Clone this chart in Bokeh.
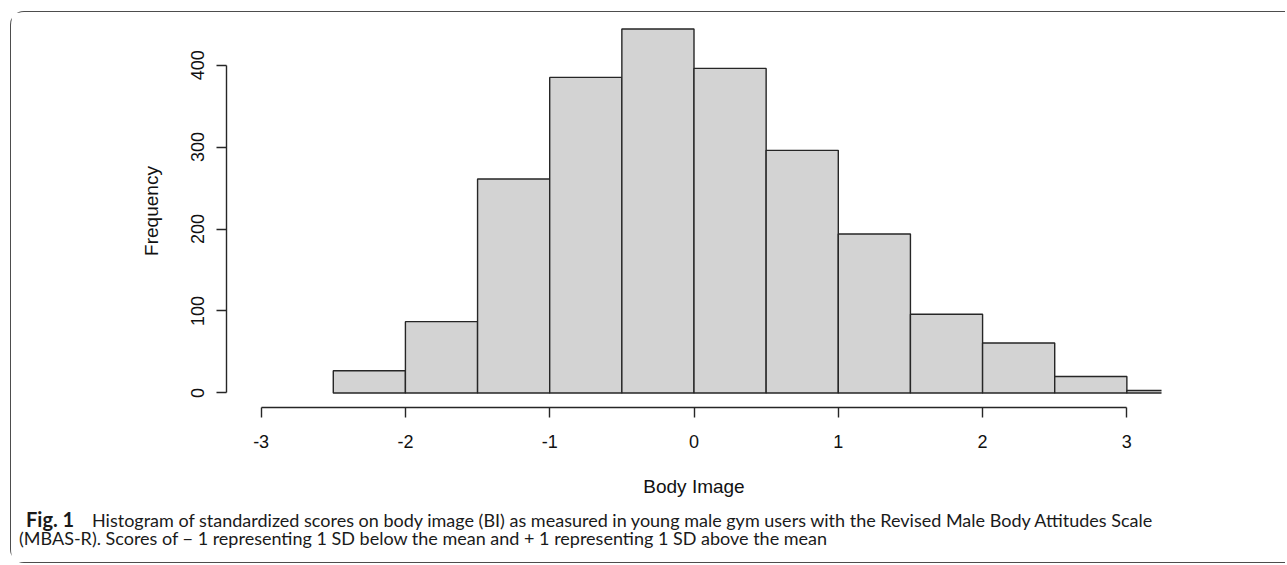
from bokeh.plotting import figure
from bokeh.models import Label, Range1d, FixedTicker
from bokeh.layouts import column
from bokeh.embed import file_html
from bokeh.resources import INLINE

# Histogram data (bin edges and frequencies)
bin_left = [-2.5, -2.0, -1.5, -1.0, -0.5, 0.0, 0.5, 1.0, 1.5, 2.0, 2.5, 3.0]
bin_right = [-2.0, -1.5, -1.0, -0.5, 0.0, 0.5, 1.0, 1.5, 2.0, 2.5, 3.0, 3.5]
frequency = [27, 87, 261, 385, 444, 396, 296, 194, 96, 61, 20, 3]
x_ticks = [-3, -2, -1, 0, 1, 2, 3]
x_tick_labels = ["-3", "-2", "-1", "0", "1", "2", "3"]
y_ticks = [0, 100, 200, 300, 400]
y_tick_labels = ["0", "100", "200", "300", "400"]

x_label = "Body Image"
y_label = "Frequency"
caption_bold = "Fig. 1"
caption_line1 = "Histogram of standardized scores on body image (BI) as measured in young male gym users with the Revised Male Body Attitudes Scale"
caption_line2 = "(MBAS-R). Scores of \u2212 1 representing 1 SD below the mean and + 1 representing 1 SD above the mean"

FONT = "Liberation Sans"
CAP_FONT = "Lato"
W = 1274

p = figure(
    width=W, height=494,
    frame_width=935, frame_height=393,
    min_border_left=215, min_border_right=124, min_border_top=2, min_border_bottom=99,
    x_range=Range1d(-3.24, 3.24), y_range=Range1d(-17.76, 461.76),
    output_backend="svg", toolbar_location=None,
)
p.frame_align = False
p.title.visible = False
p.outline_line_color = None
p.grid.visible = False
p.background_fill_color = "white"
p.border_fill_color = "white"

p.quad(left=bin_left, right=bin_right, bottom=0, top=frequency,
       fill_color="#D3D3D3", line_color="#262626", line_width=1.4)

for ax in (p.xaxis[0], p.yaxis[0]):
    ax.axis_line_color = "#262626"
    ax.axis_line_width = 1.4
    ax.major_tick_line_color = "#262626"
    ax.major_tick_line_width = 1.4
    ax.major_tick_out = 10
    ax.major_tick_in = 0
    ax.minor_tick_out = 0
    ax.minor_tick_in = 0
    ax.major_label_text_font = FONT
    ax.major_label_text_font_size = "18px"
    ax.major_label_text_color = "#111111"
    ax.axis_label_text_font = FONT
    ax.axis_label_text_font_size = "19px"
    ax.axis_label_text_font_style = "normal"
    ax.axis_label_text_color = "#111111"

p.xaxis[0].ticker = FixedTicker(ticks=x_ticks)
p.xaxis[0].major_label_overrides = {t: s for t, s in zip(x_ticks, x_tick_labels)}
p.xaxis[0].bounds = (-3, 3)
p.xaxis[0].major_label_standoff = 17
p.xaxis[0].axis_label = x_label
p.xaxis[0].axis_label_standoff = 25

p.yaxis[0].ticker = FixedTicker(ticks=y_ticks)
p.yaxis[0].major_label_overrides = {t: s for t, s in zip(y_ticks, y_tick_labels)}
p.yaxis[0].bounds = (0, 400)
p.yaxis[0].major_label_orientation = "vertical"
p.yaxis[0].major_label_standoff = 12
p.yaxis[0].axis_label = y_label
p.yaxis[0].axis_label_standoff = 27

# Caption panel
CH = 56
cap = figure(
    width=W, height=CH, x_range=Range1d(0, W), y_range=Range1d(0, CH),
    min_border=0, output_backend="svg", toolbar_location=None,
)
cap.frame_align = False
cap.title.visible = False
cap.axis.visible = False
cap.grid.visible = False
cap.outline_line_color = None
cap.border_fill_color = "white"

cap.add_layout(Label(x=14.5, y=31.5, text=caption_bold,
                     text_font=CAP_FONT, text_font_style="bold", text_font_size="20px",
                     text_color="#1a1a1a"))
cap.add_layout(Label(x=80.5, y=31.5, text=caption_line1,
                     text_font=CAP_FONT, text_font_size="18px", text_color="#1a1a1a"))
cap.add_layout(Label(x=7.5, y=13.5, text=caption_line2,
                     text_font=CAP_FONT, text_font_size="18px", text_color="#1a1a1a"))

layout = column(p, cap, spacing=0, styles={
    "border-left": "1.6px solid #4d4d4d",
    "border-top": "1.6px solid #4d4d4d",
    "border-bottom": "1.6px solid #4d4d4d",
    "border-top-left-radius": "14px",
    "border-bottom-left-radius": "14px",
    "margin-left": "10px",
    "margin-top": "11px",
})

open("out.html", "w").write(file_html(layout, INLINE))
